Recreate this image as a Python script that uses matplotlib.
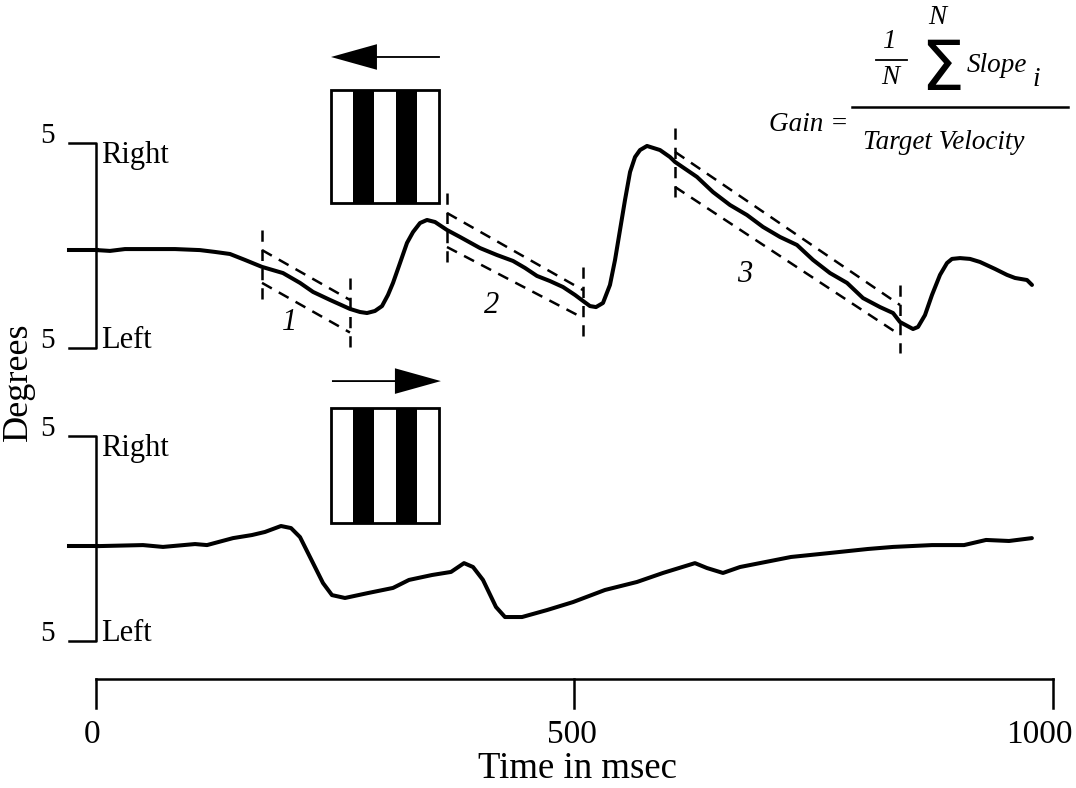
import matplotlib.pyplot as plt
from matplotlib.patches import Rectangle, FancyArrow
from matplotlib.lines import Line2D

plt.rcParams['font.family'] = 'Liberation Serif'

#####################
# eye position traces
# time in ms, position in degrees (right = positive)

# upper trace: grating drifting to the left
top_t = [1, 14.6, 30.3, 56.4, 82.6, 108.7, 124.4, 140.0, 155.7, 173.5, 195.4,
         213.2, 226.8, 244.5, 265.4, 275.9, 283.2, 291.5, 298.9, 305.1, 310.4,
         317.7, 325.0, 331.3, 338.6, 345.9, 354.3, 366.8, 380.4, 401.3, 419.0,
         435.8, 448.3, 460.8, 474.4, 488.0, 500.6, 508.9, 516.2, 522.5, 529.8,
         537.1, 542.4, 547.6, 552.8, 558.1, 563.3, 568.5, 575.8, 589.4, 599.8,
         605.1, 628.0, 644.8, 662.5, 680.3, 697.0, 714.8, 732.5, 749.3, 767.0,
         784.8, 801.5, 819.3, 832.9, 840.2, 853.8, 859.0, 866.3, 873.6, 882.0,
         889.3, 894.5, 902.9, 913.3, 923.8, 939.5, 952.0, 960.4, 972.9, 978.1]
top_deg = [-0.20, -0.24, -0.15, -0.15, -0.15, -0.20, -0.29, -0.39, -0.68, -1.02, -1.32,
           -1.80, -2.24, -2.63, -3.07, -3.22, -3.27, -3.17, -2.93, -2.39, -1.80,
           -0.83, 0.15, 0.68, 1.12, 1.27, 1.17, 0.78, 0.44, -0.10, -0.44,
           -0.73, -1.07, -1.46, -1.71, -2.00, -2.39, -2.68, -2.93, -2.98, -2.78,
           -1.90, -0.68, 0.78, 2.24, 3.61, 4.34, 4.68, 4.88, 4.68, 4.34,
           4.10, 3.37, 2.63, 2.00, 1.51, 0.93, 0.44, 0.05, -0.68, -1.32,
           -1.80, -2.54, -2.98, -3.27, -3.71, -4.05, -3.95, -3.37, -2.39, -1.41,
           -0.83, -0.63, -0.59, -0.63, -0.78, -1.12, -1.41, -1.56, -1.66, -1.90]

# lower trace: grating drifting to the right
bot_t = [2.1, 49.1, 70.0, 103.5, 116.0, 143.2, 163.0, 176.6, 193.3, 203.8, 213.2,
         223.6, 237.2, 246.6, 260.2, 284.2, 310.4, 327.1, 351.1, 371.0, 384.6,
         394.0, 404.4, 418.0, 427.4, 445.2, 471.3, 498.5, 531.9, 565.3, 592.5,
         625.9, 638.5, 655.2, 673.0, 699.1, 726.3, 766.0, 806.7, 832.9, 873.6,
         907.1, 930.1, 954.1, 978.0]
bot_deg = [-0.37, -0.32, -0.41, -0.27, -0.32, 0.02, 0.17, 0.32, 0.61, 0.51, 0.07,
           -0.90, -2.17, -2.76, -2.90, -2.66, -2.41, -2.02, -1.78, -1.63, -1.20,
           -1.39, -2.02, -3.34, -3.83, -3.83, -3.49, -3.10, -2.51, -2.12, -1.68,
           -1.20, -1.44, -1.68, -1.39, -1.15, -0.90, -0.71, -0.51, -0.41, -0.32,
           -0.32, -0.07, -0.12, 0.02]

# slow-phase slope fits on the upper trace
seg_labels = ['1', '2', '3']
seg_t0 = [173.5, 366.8, 605.1]
seg_t1 = [265.4, 508.9, 840.2]
seg_up0 = [-0.20, 1.61, 4.59]
seg_up1 = [-2.63, -2.15, -2.88]
seg_lo0 = [-1.80, -0.05, 2.88]
seg_lo1 = [-4.22, -3.51, -4.34]
seg_v0 = [(0.78, -2.63), (2.59, -0.78), (5.76, 2.24)]
seg_v1 = [(-1.56, -4.98), (-1.02, -4.44), (-1.90, -5.22)]
seg_label_t = [202.7, 413.8, 678.2]
seg_label_deg = [-3.71, -2.88, -1.41]

x_ticks = [0, 500, 1000]
x_ticklabels = ['0', '500', '1000']
deg_range = 5
#####################

bot_offset = -14.27     # vertical spacing of the lower trace
axis_y = -21.12         # time axis bar
lw_trace = 2.9
lw_axis = 1.8
dash = (0, (4.5, 3.2))

fig = plt.figure(figsize=(10.76, 7.88), dpi=100)
ax = fig.add_axes([0, 0, 1, 1])
ax.set_xlim(-100.3, 1024.1)
ax.set_ylim(-26.44, 12.0)
ax.axis('off')

# traces
ax.plot(top_t, top_deg, color='black', lw=lw_trace, solid_capstyle='round',
        solid_joinstyle='round')
ax.plot(bot_t, [d + bot_offset for d in bot_deg], color='black', lw=lw_trace,
        solid_capstyle='round', solid_joinstyle='round')

# degree brackets
for off, first in [(0, top_deg[0]), (bot_offset, bot_deg[0])]:
    ax.plot([-28, 0, 0, -28], [off + deg_range, off + deg_range,
                               off - deg_range, off - deg_range],
            color='black', lw=lw_axis)
    ax.plot([-28, top_t[0]], [off + first, off + first], color='black', lw=lw_trace)
    for sgn in [1, -1]:
        ax.text(-51, off + sgn * deg_range, str(deg_range), fontsize=21,
                ha='center', va='baseline')
    ax.text(5, off + deg_range + 0.1, 'Right', fontsize=22, ha='left', va='top')
    ax.text(5, off - deg_range, 'Left', fontsize=22, ha='left', va='baseline')

ax.text(-81, -6.6, 'Degrees', fontsize=26, rotation=90, ha='center', va='center')

# slope fit lines
for i in range(3):
    ax.plot([seg_t0[i], seg_t1[i]], [seg_up0[i], seg_up1[i]], color='black',
            lw=1.8, ls=dash)
    ax.plot([seg_t0[i], seg_t1[i]], [seg_lo0[i], seg_lo1[i]], color='black',
            lw=1.8, ls=dash)
    ax.plot([seg_t0[i], seg_t0[i]], seg_v0[i], color='black', lw=1.8, ls=dash)
    ax.plot([seg_t1[i], seg_t1[i]], seg_v1[i], color='black', lw=1.8, ls=dash)
    ax.text(seg_label_t[i], seg_label_deg[i], seg_labels[i], fontsize=22,
            style='italic', ha='center', va='center')

# grating icons with motion arrows
box_t0, box_t1 = 245.6, 358.4
stripe_w = (box_t1 - box_t0) / 5
for (ytop, ybot, ya, direction) in [(7.61, 2.10, 9.22, -1),
                                    (-7.90, -13.51, -6.59, 1)]:
    for k in [1, 3]:
        ax.add_patch(Rectangle((box_t0 + k * stripe_w, ybot), stripe_w,
                               ytop - ybot, facecolor='black', edgecolor='none'))
    ax.add_patch(Rectangle((box_t0, ybot), box_t1 - box_t0, ytop - ybot,
                           facecolor='none', edgecolor='black', lw=2))
    if direction < 0:
        start, length = box_t1 + 1, -(box_t1 - box_t0 + 1)
    else:
        start, length = box_t0 + 1, box_t1 - box_t0 + 1
    ax.add_patch(FancyArrow(start, ya, length, 0, width=0.09, head_width=1.25,
                            head_length=48, length_includes_head=True,
                            color='black', lw=0))

# time axis
ax.plot([0, 1000], [axis_y, axis_y], color='black', lw=lw_axis)
label_dx = [-3, -2, -10]
for xt, lab, dx in zip(x_ticks, x_ticklabels, label_dx):
    ax.plot([xt, xt], [axis_y, axis_y - 1.42], color='black', lw=lw_axis)
    ax.annotate(lab, (xt, axis_y - 2.73), xytext=(dx, 0), textcoords='offset points',
                fontsize=24, ha='center', va='center')
ax.text(502.6, -25.5, 'Time in msec', fontsize=26.5, ha='center', va='center')

# gain formula
W, H = 1076, 788
def fp(px, py):
    return px / W, 1 - py / H

fig.text(*fp(809, 131), 'Gain =', fontsize=19.5, style='italic', ha='center',
         va='baseline')
fig.add_artist(Line2D([852 / W, 1068 / W], [1 - 107 / H] * 2, color='black', lw=1.8))
fig.text(*fp(889, 48), '1', fontsize=19.5, style='italic', ha='center', va='baseline')
fig.add_artist(Line2D([876 / W, 907 / W], [1 - 60 / H] * 2, color='black', lw=1.3))
fig.text(*fp(890, 84), 'N', fontsize=19.5, style='italic', ha='center', va='baseline')
fig.text(*fp(942, 90), '\u03a3', fontsize=50, family='DejaVu Sans', ha='center',
         va='baseline')
fig.text(*fp(937, 24), 'N', fontsize=19.5, style='italic', ha='center', va='baseline')
fig.text(*fp(997, 72), 'Slope', fontsize=19.5, style='italic', ha='center',
         va='baseline')
fig.text(*fp(1036, 86), 'i', fontsize=19.5, style='italic', ha='center', va='baseline')
fig.text(*fp(944, 149), 'Target Velocity', fontsize=19.5, style='italic',
         ha='center', va='baseline')

plt.savefig('out.png', dpi=100)
